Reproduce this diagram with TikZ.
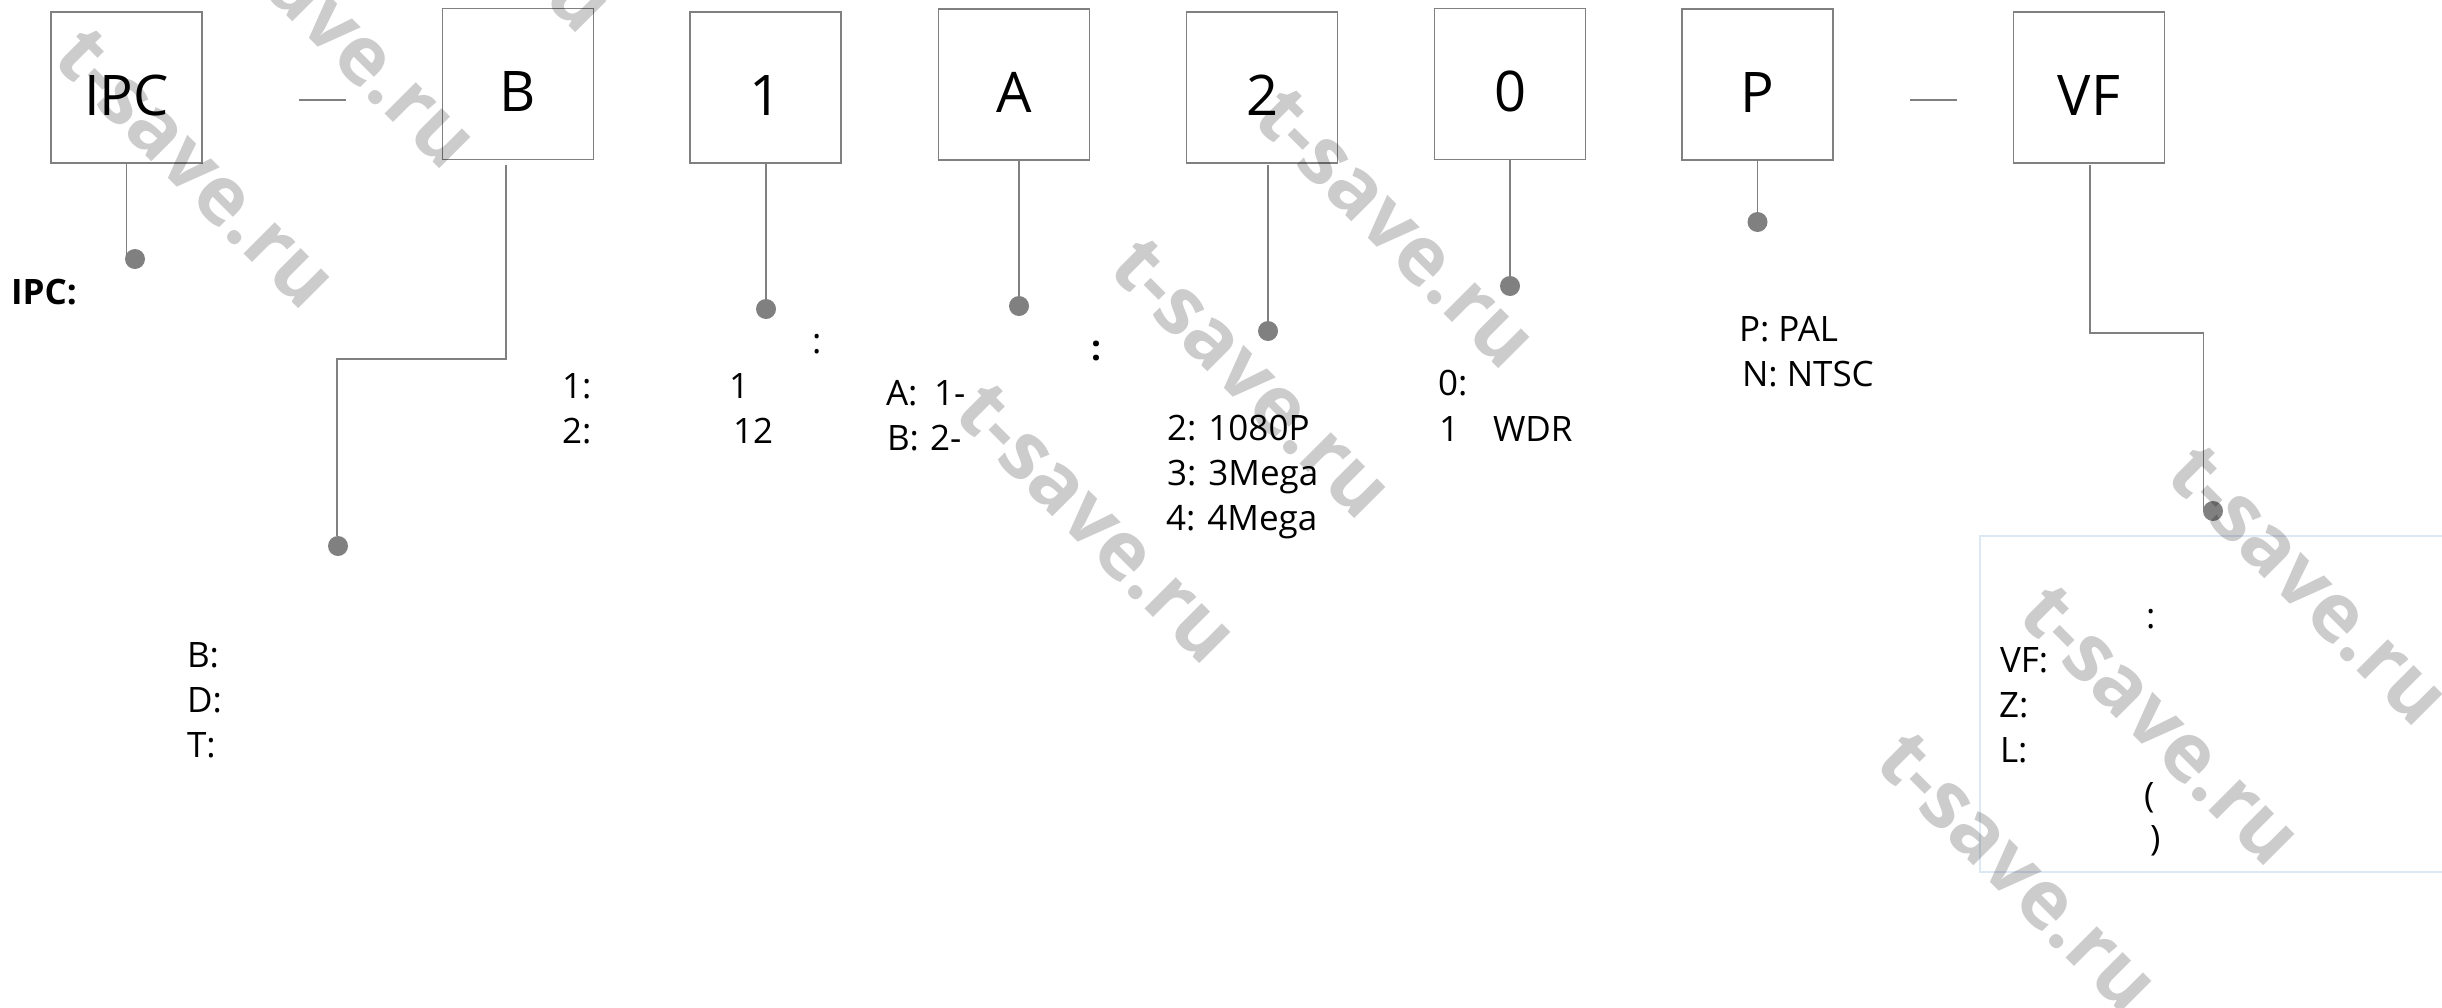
\documentclass[tikz,border=0pt]{standalone}
\usepackage{fontspec}
\setmainfont{Open Sans}
\definecolor{linegray}{HTML}{808080}
\definecolor{panelblue}{HTML}{DCE9F5}
\tikzset{
  x=1pt,y=-1pt,
  codebox/.style={draw=linegray,line width=1.8pt,minimum width=151pt,inner sep=0pt,outer sep=0pt,
    text height=103pt,text depth=48pt,font=\fontsize{56}{56}\selectfont,text=black},
  wire/.style={draw=linegray,line width=1.6pt},
  pin/.style={circle,fill=linegray,draw=none,minimum size=20pt,inner sep=0pt,outer sep=0pt},
  note/.style={anchor=base west,inner sep=0pt,outer sep=0pt,font=\fontsize{35}{35}\selectfont,text=black},
  boldnote/.style={note,font=\fontsize{35}{35}\selectfont\bfseries},
  wmark/.style={rotate=-45,text=black,text opacity=.2,inner sep=0pt,font=\bfseries\fontsize{81}{81}\selectfont},
}
\begin{document}
\begin{tikzpicture}
\useasboundingbox (0,0) rectangle (2442,1007);
% panel
\draw[panelblue,line width=1.4pt] (2444,536) -- (1980,536) -- (1980,872) -- (2444,872);
% code boxes
\node[codebox] (ipc) at (126.5,87.5) {IPC};
\node[codebox] (b)   at (518,84) {B};
\node[codebox] (one) at (765.5,87.5) {1};
\node[codebox] (a)   at (1014,84.5) {A};
\node[codebox] (two) at (1262,87.5) {2};
\node[codebox] (zero) at (1510,84) {0};
\node[codebox] (p)   at (1757.5,84.5) {P};
\node[codebox] (vf)  at (2089,87.5) {VF};
% dashes between boxes
\coordinate (d1a) at (299,100); \coordinate (d1b) at (346,100);
\coordinate (d2a) at (1910,100); \coordinate (d2b) at (1957,100);
\draw[wire] (d1a) -- (d1b);
\draw[wire] (d2a) -- (d2b);
% pins
\node[pin] (pipc) at (135,259) {};
\node[pin] (pb)   at (338,546) {};
\node[pin] (pone) at (766,309) {};
\node[pin] (pa)   at (1019,306) {};
\node[pin] (ptwo) at (1268,331) {};
\node[pin] (pzero) at (1510,286) {};
\node[pin] (pp)   at (1757.5,222) {};
\node[pin] (pvf)  at (2213,511) {};
% connectors
\draw[wire] (ipc.south) -- (ipc.south |- pipc.west);
\coordinate (bs) at (506,165); \coordinate (bm) at (506,359); \coordinate (bn) at (337,359);
\draw[wire] (bs) -- (bm) -- (bn) -- (bn |- pb.north);
\draw[wire] (pone.north |- one.south) -- (pone.north);
\draw[wire] (pa.north |- a.south) -- (pa.north);
\coordinate (ts) at (1268,165);
\draw[wire] (ts) -- (ptwo.north);
\draw[wire] (pzero.north |- zero.south) -- (pzero.north);
\draw[wire] (pp.north |- p.south) -- (pp.north);
\coordinate (vs) at (2090,165); \coordinate (vm) at (2090,333); \coordinate (vn) at (2203.5,333);
\draw[wire] (vs) -- (vm) -- (vn) -- (vn |- pvf.west);
% notes
\node[boldnote] (t01) at (11,304) {IPC:};
\node[note] (t02) at (187,667) {B:};
\node[note] (t03) at (187,712) {D:};
\node[note] (t04) at (187,757) {T:};
\node[note] (t05) at (812,353) {:};
\node[note] (t06) at (562,398) {1:};
\node[note] (t07) at (729,398) {1};
\node[note] (t08) at (562,443) {2:};
\node[note] (t09) at (733,443) {12};
\node[boldnote] (t10) at (1091,360) {:};
\node[note] (t11) at (886,405) {A:};
\node[note] (t12) at (934,405) {1-};
\node[note] (t13) at (887,450) {B:};
\node[note] (t14) at (930,450) {2-};
\node[note] (t15) at (1167,440) {2: 1080P};
\node[note] (t16) at (1167,485) {3: 3Mega};
\node[note] (t17) at (1166,530) {4: 4Mega};
\node[note] (t18) at (1438,395) {0:};
\node[note] (t19) at (1439,441) {1};
\node[note] (t20) at (1493,441) {WDR};
\node[note] (t21) at (1739,341) {P: PAL};
\node[note] (t22) at (1742,386) {N: NTSC};
\node[note] (t23) at (2146,628) {:};
\node[note] (t24) at (2000,672) {VF:};
\node[note] (t25) at (1999,717) {Z:};
\node[note] (t26) at (2000,762) {L:};
\node[note] (t27) at (2144,807) {(};
\node[note] (t28) at (2150,850) {)};
% watermarks
\node[wmark] (w1) at (195,168) {t-save.ru};
\node[wmark] (w2) at (336,28) {t-save.ru};
\node[wmark] (w3) at (472,-108) {t-save.ru};
\node[wmark] (w4) at (1395,228) {t-save.ru};
\node[wmark] (w5) at (1251,378) {t-save.ru};
\node[wmark] (w6) at (1096,523) {t-save.ru};
\node[wmark] (w7) at (2308,585) {t-save.ru};
\node[wmark] (w8) at (2160,725) {t-save.ru};
\node[wmark] (w9) at (2017,872) {t-save.ru};
\end{tikzpicture}
\end{document}
